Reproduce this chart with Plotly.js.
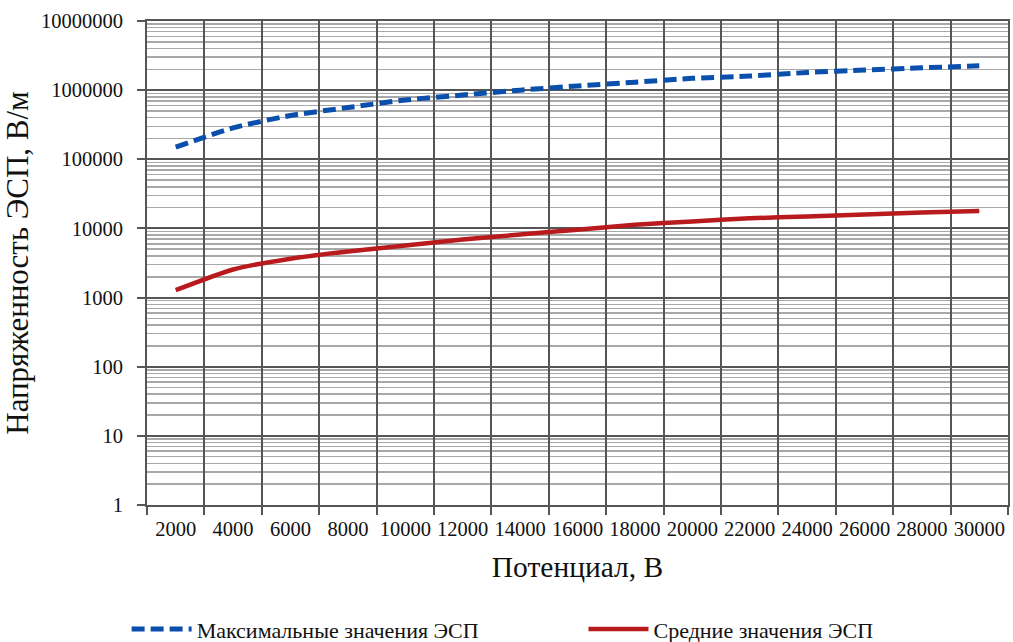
<!DOCTYPE html>
<html>
<head>
<meta charset="utf-8">
<script src="https://cdn.plot.ly/plotly-3.0.1.min.js"></script>
<style>html,body{margin:0;padding:0;background:#fff;}#chart{width:1013px;height:642px;}</style>
</head>
<body>
<div id="chart"></div>
<script>
const potentials = ['2000','4000','6000','8000','10000','12000','14000','16000','18000','20000','22000','24000','26000','28000','30000'];
const maxValues = [150000, 285000, 430000, 560000, 720000, 850000, 1000000, 1150000, 1300000, 1480000, 1600000, 1800000, 1950000, 2100000, 2250000];
const meanValues = [1280, 2550, 3650, 4650, 5650, 6900, 8150, 9600, 11300, 12600, 14000, 14900, 15900, 17000, 17800];
const yTickVals = [1, 10, 100, 1000, 10000, 100000, 1000000, 10000000];
const yTickText = ['1', '10', '100', '1000', '10000', '100000', '1000000', '10000000'];
const seriesNames = ['Максимальные значения ЭСП', 'Средние значения ЭСП'];
const xTitle = 'Потенциал, В';
const yTitle = 'Напряженность ЭСП, В/м';

const font = "'Liberation Serif', 'Times New Roman', serif";
const traces = [
  {x: potentials, y: maxValues, name: seriesNames[0], type: 'scatter', mode: 'lines', legend: 'legend',
   line: {color: '#0b4fad', width: 5, dash: '13px,6px', shape: 'spline', smoothing: 0.6}},
  {x: potentials, y: meanValues, name: seriesNames[1], type: 'scatter', mode: 'lines', legend: 'legend2',
   line: {color: '#b81a1e', width: 4.5, shape: 'spline', smoothing: 0.6}}
];
const legendCommon = {orientation: 'h', xref: 'container', yref: 'container', y: 0.02,
  xanchor: 'left', yanchor: 'middle', itemwidth: 60, bgcolor: 'rgba(0,0,0,0)',
  font: {family: font, size: 22, color: '#111'}};
const layout = {
  width: 1013, height: 642,
  margin: {l: 147, r: 5, t: 21, b: 137},
  paper_bgcolor: '#fff', plot_bgcolor: '#fff',
  font: {family: font, size: 20, color: '#111'},
  showlegend: true,
  legend: Object.assign({}, legendCommon, {x: 0.125}),
  legend2: Object.assign({}, legendCommon, {x: 0.576}),
  xaxis: {type: 'category', tickson: 'boundaries', showgrid: true, gridcolor: '#555', gridwidth: 2,
          showline: true, linecolor: '#555', linewidth: 2, mirror: true,
          ticks: 'outside', ticklen: 8, tickcolor: '#555', tickwidth: 2, tickangle: 0,
          ticklabelstandoff: 4,
          tickfont: {family: font, size: 20.5, color: '#111'},
          title: {text: xTitle, font: {family: font, size: 29.5}, standoff: 18},
          range: [-0.5, 14.5], fixedrange: true, zeroline: false},
  yaxis: {type: 'log', range: [0, 7], tickvals: yTickVals, ticktext: yTickText,
          showgrid: true, gridcolor: '#555', gridwidth: 2,
          showline: true, linecolor: '#555', linewidth: 2, mirror: true,
          ticks: 'outside', ticklen: 8, tickcolor: '#555', tickwidth: 2,
          ticklabelstandoff: 10,
          tickfont: {family: font, size: 20.5, color: '#111'},
          minor: {showgrid: true, gridcolor: '#a8a8a8', gridwidth: 1.5, dtick: 'D1'},
          title: {text: yTitle, font: {family: font, size: 31}, standoff: 8},
          zeroline: false}
};
Plotly.newPlot('chart', traces, layout, {displayModeBar: false, staticPlot: true});
</script>
</body>
</html>
